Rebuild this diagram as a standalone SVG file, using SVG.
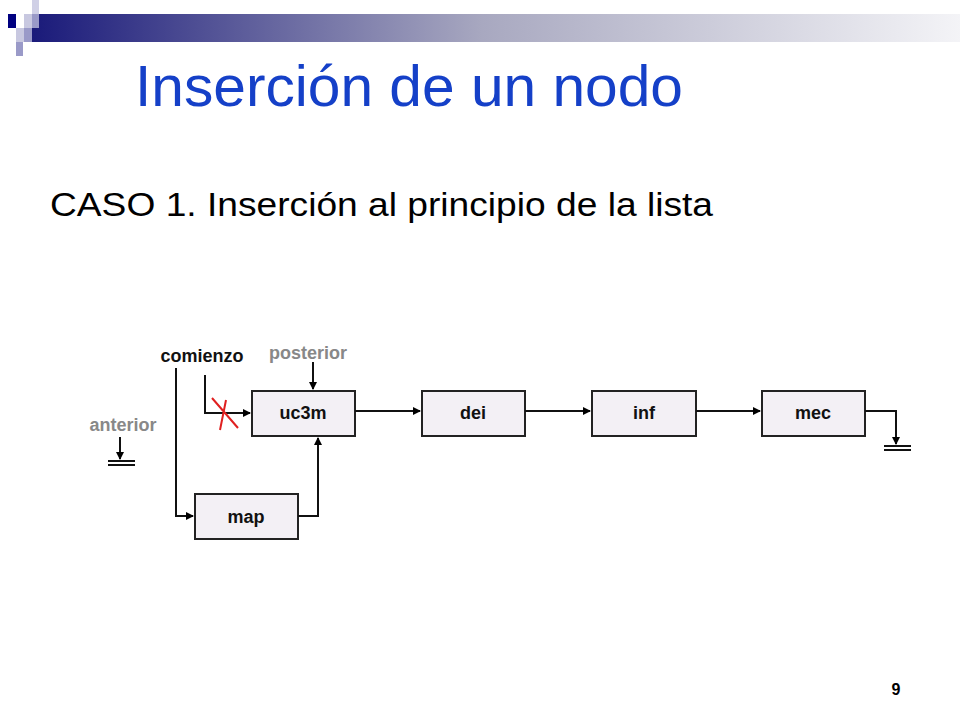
<svg xmlns="http://www.w3.org/2000/svg" width="960" height="720" viewBox="0 0 960 720">
<defs>
<linearGradient id="g" x1="0" x2="1" y1="0" y2="0"><stop offset="0" stop-color="#1a1a7a"/><stop offset="0.45" stop-color="#a8a8c0"/><stop offset="1" stop-color="#ffffff"/></linearGradient>
<marker id="a" markerWidth="8" markerHeight="8" refX="7" refY="4" orient="auto" markerUnits="userSpaceOnUse"><path d="M0,0 L8,4 L0,8 z" fill="#000"/></marker>
</defs>
<style>
.box{fill:#f3f0f5;stroke:#222;stroke-width:2}
.lbl{font-family:"Liberation Sans",Arial,sans-serif;font-weight:bold;font-size:18px;text-anchor:middle;fill:#111}
.gray{fill:#888}
.ln{fill:none;stroke:#111;stroke-width:2}
</style>
<rect x="32" y="14" width="1000" height="28" fill="url(#g)"/>
<rect x="8" y="14" width="8" height="14" fill="#000080"/>
<rect x="32" y="0" width="7" height="14" fill="#d0d0e6"/>
<rect x="24" y="14" width="8" height="14" fill="#c8c8e0"/>
<rect x="32" y="14" width="7" height="14" fill="#9a9ac8"/>
<rect x="16" y="28" width="8" height="14" fill="#c8c8e0"/>
<rect x="24" y="28" width="8" height="14" fill="#9a9ac8"/>
<rect x="16" y="42" width="7" height="14" fill="#9a9ac8"/>
<text x="135" y="106" font-family="Liberation Sans,Arial,sans-serif" font-size="57" fill="#1540c8" textLength="548" lengthAdjust="spacingAndGlyphs">Inserción de un nodo</text>
<text x="50" y="216" font-family="Liberation Sans,Arial,sans-serif" font-size="34" fill="#000" textLength="663" lengthAdjust="spacingAndGlyphs">CASO 1. Inserción al principio de la lista</text>
<text x="896" y="695" font-family="Liberation Sans,Arial,sans-serif" font-size="16" font-weight="bold" text-anchor="middle">9</text>
<g id="uc3m"><rect class="box" x="252" y="391" width="103" height="45"/><text class="lbl" x="303" y="419">uc3m</text></g>
<g id="dei"><rect class="box" x="422" y="391" width="103" height="45"/><text class="lbl" x="473" y="419">dei</text></g>
<g id="inf"><rect class="box" x="592" y="391" width="104" height="45"/><text class="lbl" x="644" y="419">inf</text></g>
<g id="mec"><rect class="box" x="762" y="391" width="103" height="45"/><text class="lbl" x="813" y="419">mec</text></g>
<g id="map"><rect class="box" x="195" y="494" width="103" height="45"/><text class="lbl" x="246" y="523">map</text></g>
<g id="comienzo"><text class="lbl" x="202" y="362">comienzo</text></g>
<g id="posterior"><text class="lbl gray" x="308" y="359">posterior</text></g>
<g id="anterior"><text class="lbl gray" x="123" y="431">anterior</text></g>
<g id="connectors">
<path class="ln" d="M355,411 H420" marker-end="url(#a)"/>
<path class="ln" d="M525,411 H590" marker-end="url(#a)"/>
<path class="ln" d="M696,411 H760" marker-end="url(#a)"/>
<path class="ln" d="M865,411 H896 V444" marker-end="url(#a)"/>
<path class="ln" d="M884,446 H911 M884,450 H911"/>
<path class="ln" d="M176,368 V516 H193" marker-end="url(#a)"/>
<path class="ln" d="M205,375 V413 H250" marker-end="url(#a)"/>
<path d="M212,398 L238,428 M226,400 L220,430" stroke="#e02020" stroke-width="2" fill="none"/>
<path class="ln" d="M313,362 V389" marker-end="url(#a)"/>
<path class="ln" d="M298,516 H318 V438" marker-end="url(#a)"/>
<path class="ln" d="M120,437 V459" marker-end="url(#a)"/>
<path class="ln" d="M108,461 H135 M108,465 H135"/>
</g>
</svg>
